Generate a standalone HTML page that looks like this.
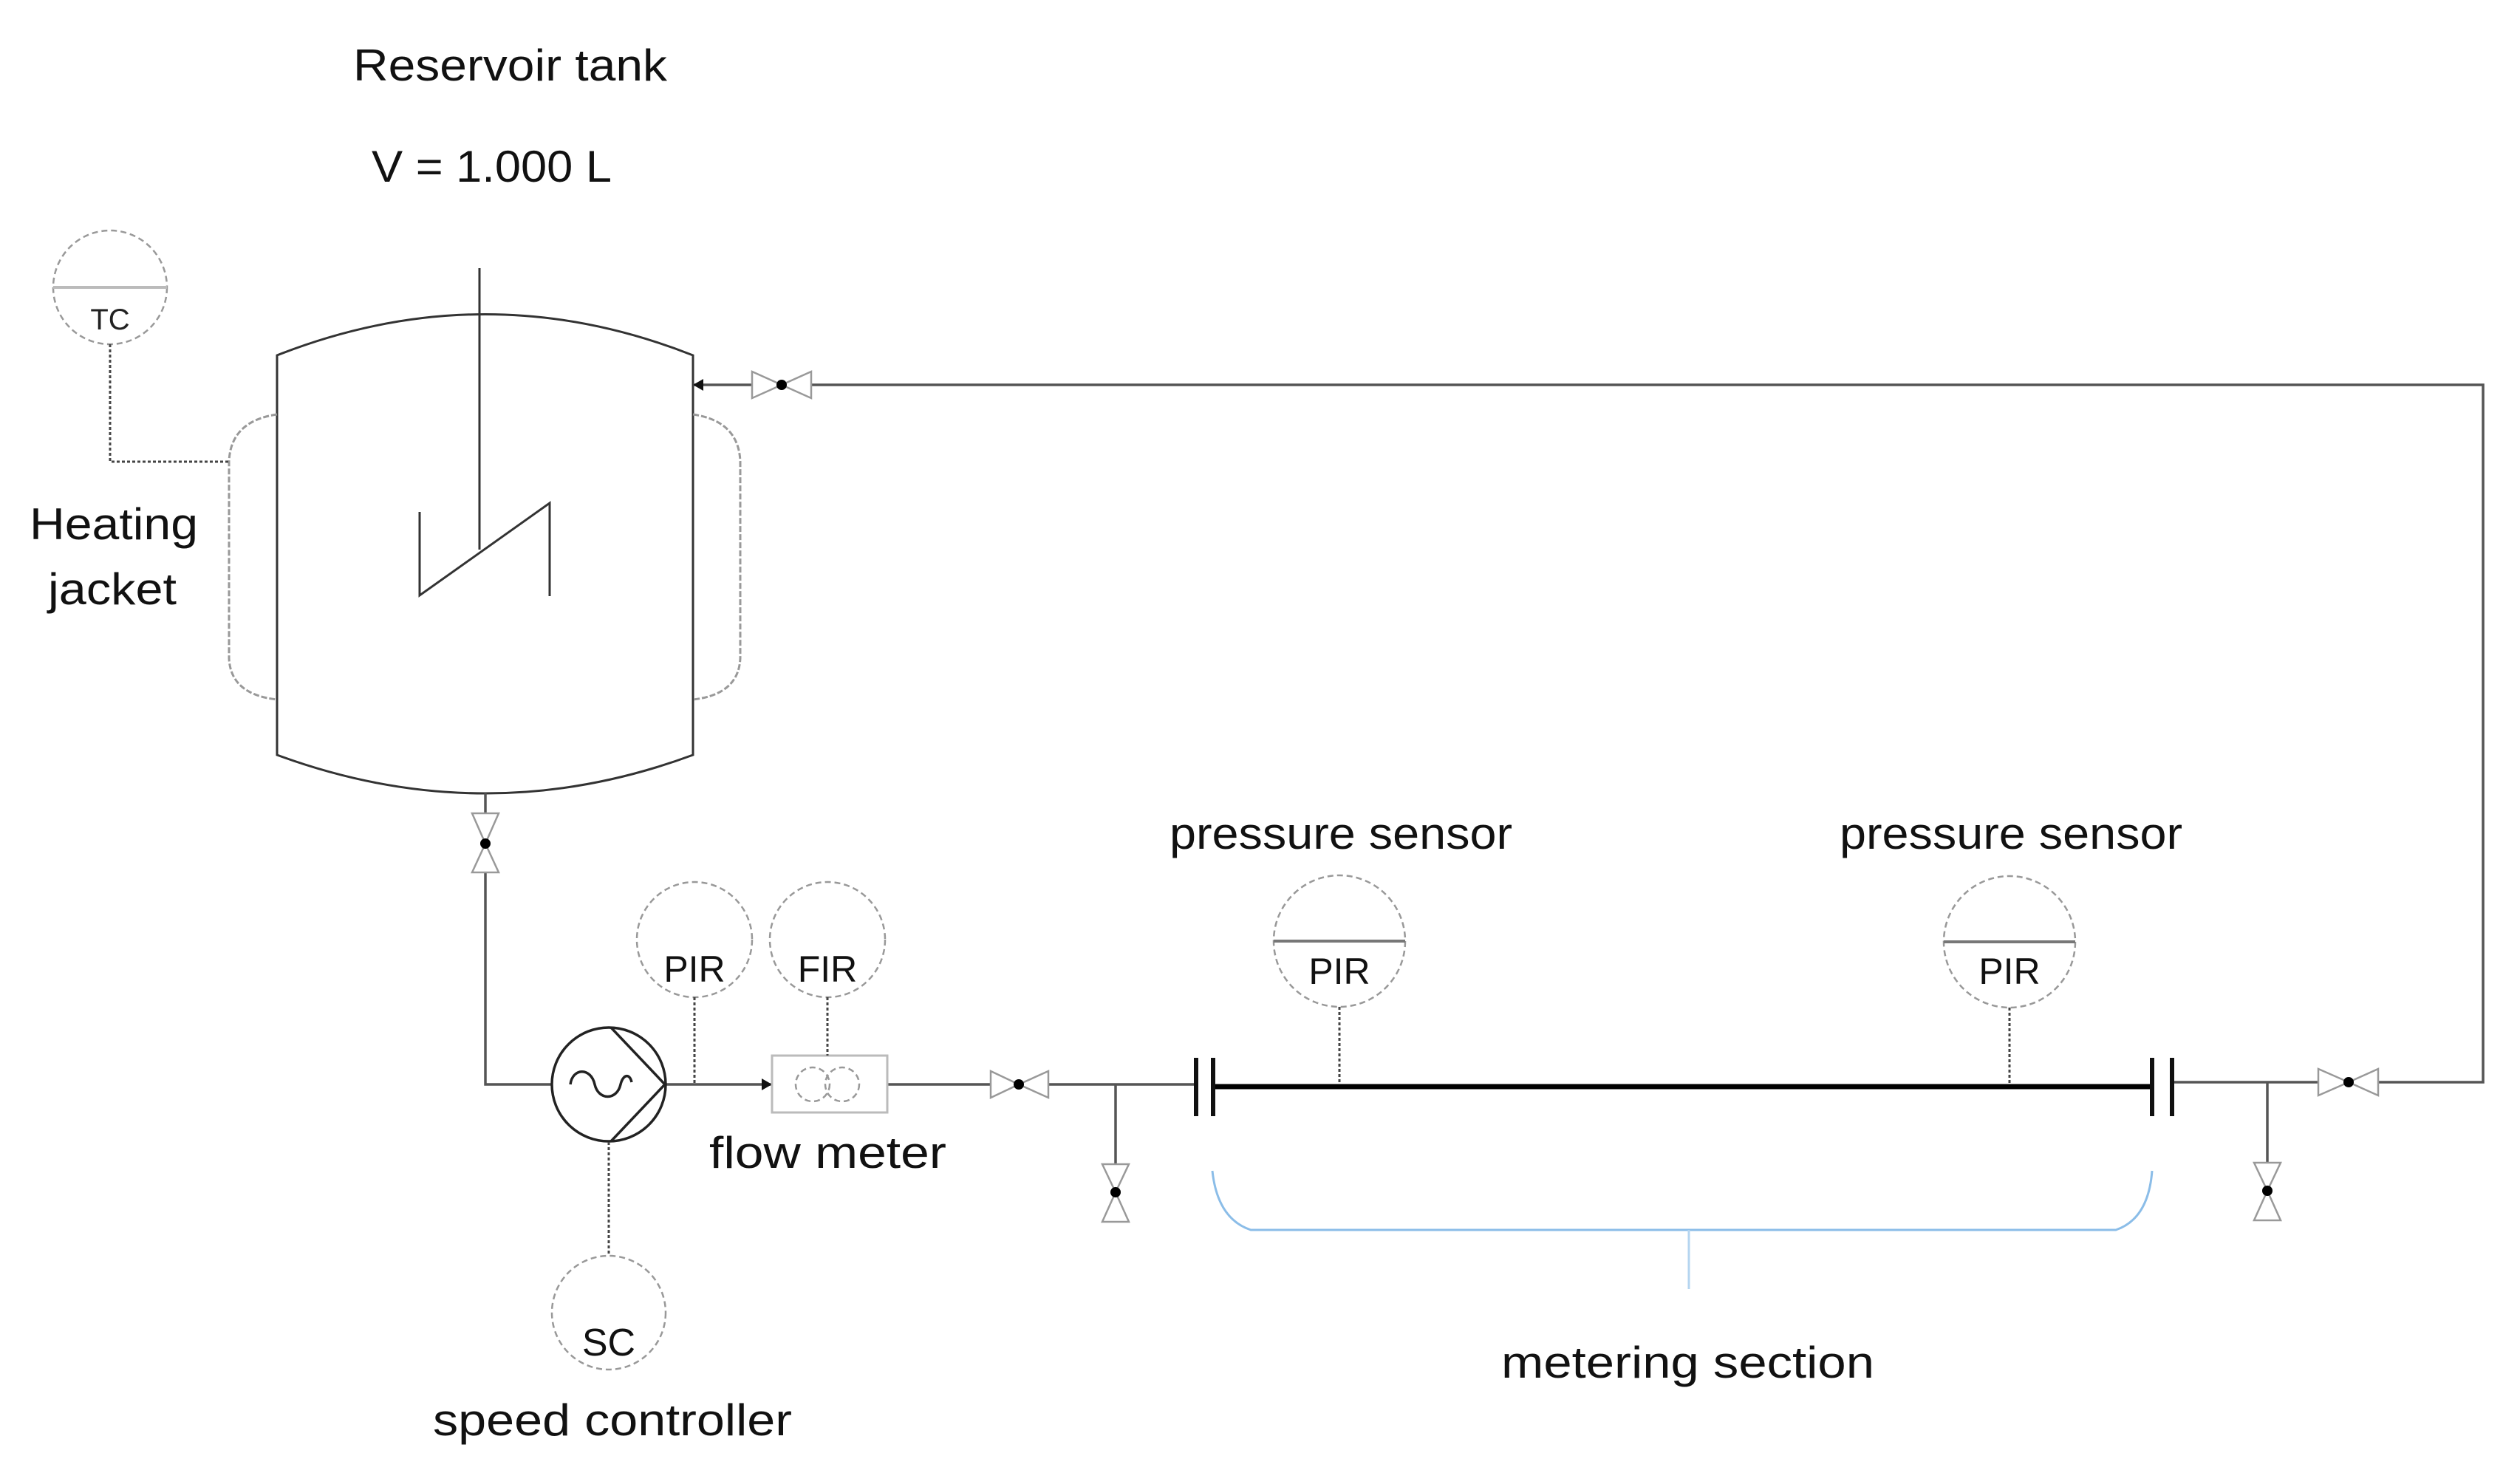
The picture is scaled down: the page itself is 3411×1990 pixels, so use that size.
<!DOCTYPE html>
<html><head><meta charset="utf-8"><style>html,body{margin:0;padding:0;background:#fff}svg{display:block}</style></head>
<body>
<svg width="3411" height="1990" viewBox="0 0 3411 1990" xmlns="http://www.w3.org/2000/svg" font-family="Liberation Sans, sans-serif">
<rect width="3411" height="1990" fill="#fff"/>
<g fill="#111" font-size="60">
<text x="478" y="109" textLength="425" lengthAdjust="spacingAndGlyphs">Reservoir tank</text>
<text x="503" y="246" textLength="325" lengthAdjust="spacingAndGlyphs">V = 1.000 L</text>
<text x="40" y="730" textLength="228" lengthAdjust="spacingAndGlyphs">Heating</text>
<text x="65" y="818" textLength="174" lengthAdjust="spacingAndGlyphs">jacket</text>
<text x="960" y="1581" textLength="321" lengthAdjust="spacingAndGlyphs">flow meter</text>
<text x="586" y="1943" textLength="486" lengthAdjust="spacingAndGlyphs">speed controller</text>
<text x="1583" y="1149" textLength="464" lengthAdjust="spacingAndGlyphs">pressure sensor</text>
<text x="2490" y="1149" textLength="464" lengthAdjust="spacingAndGlyphs">pressure sensor</text>
<text x="2032" y="1865" textLength="505" lengthAdjust="spacingAndGlyphs">metering section</text>
</g>
<g fill="none" stroke="#333" stroke-width="3">
<path d="M375 481 Q657 370 938 481 L938 1022 Q657 1126 375 1022 Z"/>
<line x1="649" y1="363" x2="649" y2="744"/>
<polyline points="568,693 568,806 744,681 744,807"/>
</g>
<g fill="none" stroke="#999" stroke-width="3" stroke-dasharray="8 3">
<path d="M375 561 Q312 570 310 625 L310 891 Q312 940 375 947"/>
<path d="M938 561 Q1000 570 1002 625 L1002 891 Q1000 940 938 947"/>
</g>
<circle cx="149" cy="389" r="77" fill="none" stroke="#999" stroke-width="2.5" stroke-dasharray="8 5"/>
<line x1="72" y1="389" x2="226" y2="389" stroke="#bbb" stroke-width="4"/>
<text x="149" y="446" font-size="40" text-anchor="middle" fill="#222">TC</text>
<polyline points="149,466 149,625 310,625" fill="none" stroke="#444" stroke-width="3" stroke-dasharray="4 3"/>
<g fill="none" stroke="#555" stroke-width="3.5">
<polyline points="938,521 1018,521"/>
<polyline points="1098,521 3361,521 3361,1465 3219,1465"/>
<polyline points="657,1074 657,1101"/>
<polyline points="657,1181 657,1468 746,1468"/>
<polyline points="900,1468 1045,1468"/>
<polyline points="1201,1468 1341,1468"/>
<polyline points="1419,1468 1619,1468"/>
<polyline points="1510,1468 1510,1576"/>
<polyline points="2940,1465 3138,1465"/>
<polyline points="3069,1465 3069,1576"/>
</g>
<polygon points="938,521 952,513 952,529" fill="#111"/>
<polygon points="1045,1468 1031,1460 1031,1476" fill="#111"/>
<g fill="#fff" stroke="#999" stroke-width="2.5">
<polygon points="1018,503 1058,521 1018,539"/><polygon points="1098,503 1058,521 1098,539"/>
<polygon points="639,1101 657,1142 675,1101"/><polygon points="639,1181 657,1142 675,1181"/>
<polygon points="1341,1450 1379,1468 1341,1486"/><polygon points="1419,1450 1379,1468 1419,1486"/>
<polygon points="1492,1576 1510,1614 1528,1576"/><polygon points="1492,1654 1510,1614 1528,1654"/>
<polygon points="3138,1447 3179,1465 3138,1483"/><polygon points="3219,1447 3179,1465 3219,1483"/>
<polygon points="3051,1574 3069,1612 3087,1574"/><polygon points="3051,1652 3069,1612 3087,1652"/>
</g>
<g fill="#000">
<circle cx="1058" cy="521" r="7"/><circle cx="657" cy="1142" r="7"/><circle cx="1379" cy="1468" r="7"/>
<circle cx="1510" cy="1614" r="7"/><circle cx="3179" cy="1465" r="7"/><circle cx="3069" cy="1612" r="7"/>
</g>
<g fill="none" stroke="#222" stroke-width="3.5">
<circle cx="824" cy="1468" r="77"/>
<polyline points="827,1391 900,1468 827,1545"/>
<path d="M772 1468 C775 1445 800 1445 805 1468 C810 1490 835 1490 840 1468 C843 1455 852 1452 855 1465"/>
</g>
<line x1="824" y1="1546" x2="824" y2="1700" stroke="#444" stroke-width="3" stroke-dasharray="4 3"/>
<circle cx="824" cy="1777" r="77" fill="none" stroke="#999" stroke-width="2.5" stroke-dasharray="8 5"/>
<text x="824" y="1835" font-size="52" text-anchor="middle" fill="#111">SC</text>
<g fill="none" stroke="#999" stroke-width="2.5" stroke-dasharray="8 5">
<circle cx="940" cy="1272" r="78"/><circle cx="1120" cy="1272" r="78"/>
<circle cx="1813" cy="1274" r="89"/><circle cx="2720" cy="1275" r="89"/>
<circle cx="1100" cy="1468" r="23"/><circle cx="1140" cy="1468" r="23"/>
</g>
<rect x="1045" y="1429" width="156" height="77" fill="none" stroke="#bbb" stroke-width="3"/>
<line x1="1724" y1="1274" x2="1902" y2="1274" stroke="#777" stroke-width="4"/>
<line x1="2631" y1="1275" x2="2809" y2="1275" stroke="#777" stroke-width="4"/>
<g fill="#111" font-size="50" text-anchor="middle">
<text x="940" y="1329">PIR</text><text x="1120" y="1329">FIR</text>
<text x="1813" y="1332">PIR</text><text x="2720" y="1332">PIR</text>
</g>
<g stroke="#444" stroke-width="3" stroke-dasharray="4 3">
<line x1="940" y1="1350" x2="940" y2="1468"/>
<line x1="1120" y1="1350" x2="1120" y2="1429"/>
<line x1="1813" y1="1363" x2="1813" y2="1468"/>
<line x1="2720" y1="1364" x2="2720" y2="1468"/>
</g>
<line x1="1642" y1="1471" x2="2913" y2="1471" stroke="#000" stroke-width="7"/>
<g stroke="#111" stroke-width="6">
<line x1="1619" y1="1432" x2="1619" y2="1511"/><line x1="1642" y1="1432" x2="1642" y2="1511"/>
<line x1="2913" y1="1432" x2="2913" y2="1511"/><line x1="2940" y1="1432" x2="2940" y2="1511"/>
</g>
<g fill="none" stroke="#8bbde8" stroke-width="3">
<path d="M1641 1585 Q1648 1650 1693 1665 L2864 1665 Q2908 1650 2913 1585"/>
<line x1="2286" y1="1665" x2="2286" y2="1745" stroke="#b5d5f0"/>
</g>
</svg>
</body></html>
